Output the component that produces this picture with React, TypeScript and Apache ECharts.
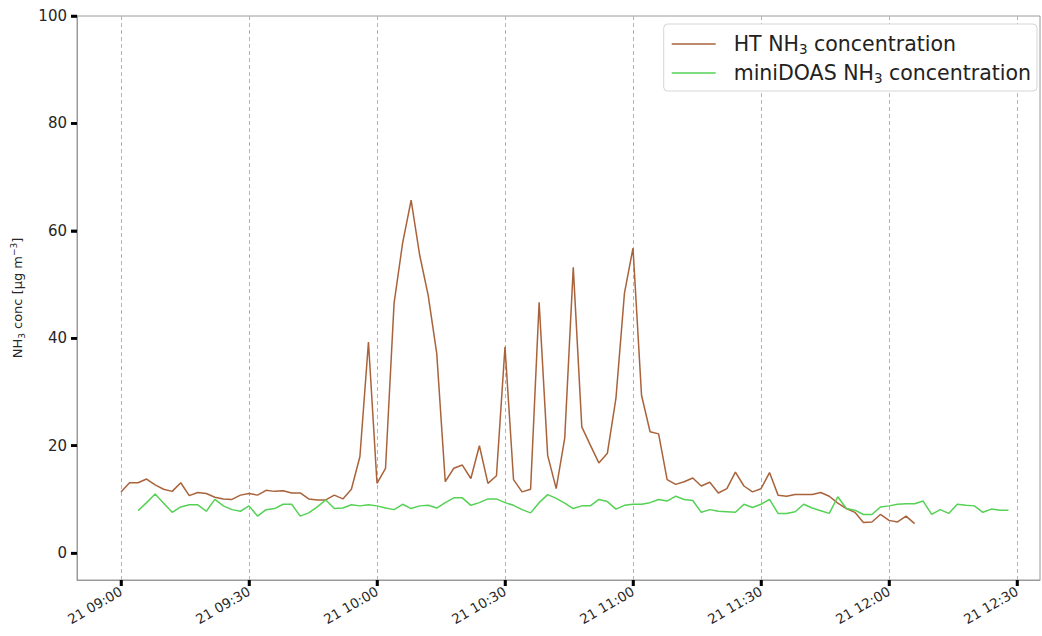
import React, { useEffect, useRef } from "react";
import * as echarts from "echarts";

// Sampling: both instruments report every 2 minutes on the 21st
const DAY = Date.UTC(2021, 5, 21);
const MINUTE = 60 * 1000;
const STEP_MIN = 2;
const HT_START = "09:00";
const MINI_START = "09:04";

// HT NH3 concentration [µg m-3], 09:00 → 12:06
const htValues = [
  11.4, 13.1, 13.1, 13.8, 12.7, 11.9, 11.5, 13.1, 10.7, 11.3,
  11.1, 10.4, 10.1, 10.0, 10.8, 11.1, 10.8, 11.7, 11.5, 11.6,
  11.2, 11.2, 10.1, 9.9, 9.9, 10.8, 10.1, 11.9, 18.0, 39.3,
  13.0, 15.8, 46.5, 57.7, 65.7, 55.5, 48.0, 37.2, 13.3, 15.8,
  16.4, 13.9, 20.0, 13.0, 14.4, 38.4, 13.7, 11.4, 11.9, 46.7,
  18.2, 12.0, 21.4, 53.2, 23.5, 20.1, 16.8, 18.6, 28.8, 48.4,
  56.8, 29.4, 22.6, 22.2, 13.7, 12.8, 13.3, 14.0, 12.5, 13.2,
  11.2, 12.0, 15.1, 12.5, 11.4, 12.0, 15.0, 10.8, 10.6, 10.9,
  10.9, 10.9, 11.3, 10.6, 9.3, 8.3, 7.6, 5.7, 5.8, 7.2,
  6.1, 5.8, 6.9, 5.5,
];

// miniDOAS NH3 concentration [µg m-3], 09:04 → 12:28
const miniValues = [
  7.9, 9.4, 11.0, 9.3, 7.6, 8.6, 9.0, 9.0, 7.8, 10.0,
  8.8, 8.1, 7.8, 8.8, 6.9, 8.1, 8.3, 9.1, 9.1, 6.9,
  7.5, 8.6, 9.9, 8.3, 8.4, 9.0, 8.8, 9.0,
  8.8, 8.4, 8.1, 9.1, 8.3, 8.8, 8.9, 8.4, 9.4, 10.3,
  10.3, 8.9, 9.4, 10.1, 10.1, 9.4, 8.9, 8.1, 7.5, 9.4,
  10.9, 10.2, 9.3, 8.3, 8.8, 8.8, 10.0, 9.6, 8.2, 8.9,
  9.1, 9.1, 9.4, 10.0, 9.7, 10.6, 10.0, 9.8, 7.6, 8.1,
  7.8, 7.7, 7.6, 9.1, 8.5, 9.1, 10.0, 7.4, 7.4, 7.7,
  9.1, 8.4, 7.9, 7.4, 10.5, 8.3, 8.0, 7.2, 7.2, 8.6,
  8.8, 9.1, 9.2, 9.2, 9.7, 7.2, 8.1, 7.4, 9.1, 8.9,
  8.8, 7.6, 8.2, 8.0, 8.0,
];

const xTickLabels = ["09:00", "09:30", "10:00", "10:30", "11:00", "11:30", "12:00", "12:30"];
const yTicks = [0, 20, 40, 60, 80, 100];

const X_MIN = "08:49.69"; // hh:mm with fractional minutes
const X_MAX = "12:35.39";
const Y_MIN = -5;
const Y_MAX = 100;

const HT_COLOR = "#a9633b";
const MINI_COLOR = "#55d155";
const FONT = "DejaVu Sans";
const TICK_LEN = 6;

function clock(hm: string): number {
  const [h, m] = hm.split(":");
  return DAY + (Number(h) * 60 + Number(m)) * MINUTE;
}

function toSeries(start: string, values: number[]): [number, number][] {
  const t0 = clock(start);
  return values.map((v, i) => [t0 + i * STEP_MIN * MINUTE, v]);
}

const pad = (n: number) => String(n).padStart(2, "0");

function formatTick(v: number): string {
  const d = new Date(v);
  return `${d.getUTCDate()} ${pad(d.getUTCHours())}:${pad(d.getUTCMinutes())}`;
}

export default function App() {
  const ref = useRef<HTMLDivElement>(null);

  useEffect(() => {
    if (!ref.current) return;
    const chart = echarts.init(ref.current, null, { renderer: "svg" });
    const xTicks = xTickLabels.map(clock);
    const xMin = clock(X_MIN);

    chart.setOption({
      animation: false,
      backgroundColor: "#ffffff",
      grid: {
        left: 77,
        top: 16,
        right: 2,
        bottom: 56,
        show: true,
        borderColor: "#9a9a9a",
        borderWidth: 1,
      },
      legend: {
        orient: "vertical",
        right: 5,
        top: 24,
        padding: [8, 6, 6, 8],
        itemGap: 5,
        itemWidth: 44,
        itemHeight: 1.6,
        icon: "rect",
        backgroundColor: "#ffffff",
        borderColor: "#d6d6d6",
        borderWidth: 1,
        borderRadius: 4,
        formatter: (name: string) => name.replace("NH3", "NH{s|3}"),
        textStyle: {
          fontFamily: FONT,
          fontSize: 20.5,
          color: "#222222",
          lineHeight: 24,
          padding: [0, 0, 0, 13],
          rich: {
            s: {
              fontFamily: FONT,
              fontSize: 13.5,
              lineHeight: 14,
              verticalAlign: "bottom",
              color: "#222222",
            },
          },
        },
        data: ["HT NH3 concentration", "miniDOAS NH3 concentration"],
      },
      xAxis: {
        type: "value",
        min: xMin,
        max: clock(X_MAX),
        axisLine: { show: true, onZero: false, lineStyle: { color: "#9a9a9a" } },
        axisTick: {
          show: true,
          customValues: xTicks,
          length: TICK_LEN,
          lineStyle: { color: "#000000", width: 2.5 },
        },
        axisLabel: {
          customValues: xTicks,
          rotate: 30,
          margin: 10,
          fontFamily: FONT,
          fontSize: 13.5,
          color: "#262626",
          formatter: (v: number) => formatTick(v),
        },
        splitLine: {
          show: true,
          lineStyle: { color: "#b4b4b4", type: [4, 3], width: 1 },
        },
      },
      yAxis: {
        type: "value",
        min: Y_MIN,
        max: Y_MAX,
        name: "NH{s|3} conc [µg m{p|−3}]",
        nameLocation: "middle",
        nameRotate: 90,
        nameGap: 51,
        nameTextStyle: {
          fontFamily: FONT,
          fontSize: 13,
          color: "#262626",
          lineHeight: 17,
          rich: {
            s: { fontFamily: FONT, fontSize: 9, lineHeight: 9, verticalAlign: "bottom", color: "#262626" },
            p: { fontFamily: FONT, fontSize: 9, lineHeight: 9, verticalAlign: "top", color: "#262626" },
          },
        },
        axisLine: { show: true, onZero: false, lineStyle: { color: "#9a9a9a" } },
        axisTick: {
          show: true,
          customValues: yTicks,
          length: TICK_LEN,
          lineStyle: { color: "#000000", width: 2.5 },
        },
        axisLabel: {
          customValues: yTicks,
          margin: 10,
          fontFamily: FONT,
          fontSize: 15,
          color: "#262626",
        },
        splitLine: { show: false },
      },
      series: [
        {
          name: "HT NH3 concentration",
          type: "line",
          data: toSeries(HT_START, htValues),
          symbol: "none",
          lineStyle: { color: HT_COLOR, width: 1.5 },
          itemStyle: { color: HT_COLOR },
        },
        {
          name: "miniDOAS NH3 concentration",
          type: "line",
          data: toSeries(MINI_START, miniValues),
          symbol: "none",
          lineStyle: { color: MINI_COLOR, width: 1.5 },
          itemStyle: { color: MINI_COLOR },
        },
      ],
    });

    // Heavy outward tick marks, positioned through the axis scales
    const toPx = (x: number, y: number) =>
      chart.convertToPixel({ gridIndex: 0 }, [x, y]) as number[];
    const tickStyle = { stroke: "#000000", lineWidth: 2.5 };
    const marks: any[] = [];
    xTicks.forEach((t) => {
      const p = toPx(t, Y_MIN);
      if (p && isFinite(p[0]) && isFinite(p[1])) {
        marks.push({
          type: "line",
          silent: true,
          z: 100,
          shape: { x1: p[0], y1: p[1], x2: p[0], y2: p[1] + TICK_LEN },
          style: tickStyle,
        });
      }
    });
    yTicks.forEach((v) => {
      const p = toPx(xMin, v);
      if (p && isFinite(p[0]) && isFinite(p[1])) {
        marks.push({
          type: "line",
          silent: true,
          z: 100,
          shape: { x1: p[0] - TICK_LEN, y1: p[1], x2: p[0], y2: p[1] },
          style: tickStyle,
        });
      }
    });
    chart.setOption({ graphic: marks });

    return () => chart.dispose();
  }, []);

  return (
    <div
      ref={ref}
      style={{ position: "fixed", left: 0, top: 0, width: 1042, height: 636, background: "#fff" }}
    />
  );
}
